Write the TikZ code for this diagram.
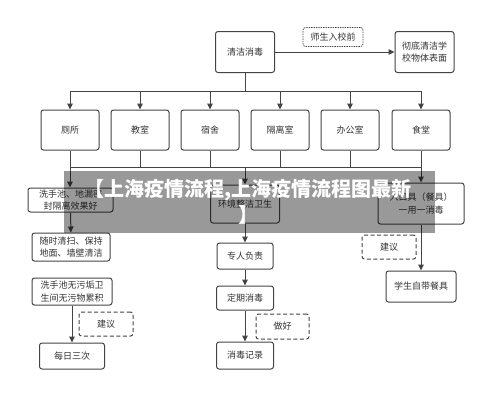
\documentclass[tikz,border=0pt]{standalone}
\usepackage{fontspec}
\setmainfont{Noto Sans CJK SC}
\usetikzlibrary{arrows.meta,positioning}
\definecolor{linegray}{HTML}{444444}
\definecolor{txtgray}{HTML}{333333}

\tikzset{
  box/.style={draw=linegray, line width=1pt, rounded corners=2.5pt, fill=white,
    text=txtgray, font=\fontsize{9}{12.5}\selectfont, align=center, inner sep=0pt},
  hint/.style={box, line width=0.8pt, dash pattern=on 1.4pt off 1pt},
  note/.style={box, line width=1pt, dash pattern=on 4pt off 2.5pt},
  line/.style={draw=linegray, line width=1pt},
  arrow/.style={line, -{Triangle[length=6pt,width=5.5pt]}},
}

\begin{document}
\begin{tikzpicture}[x=1pt, y=-1pt]
  \useasboundingbox (0,0) rectangle (500,405);

  %%%%% TOP %%%%%
  \node[box, minimum width=59, minimum height=41] (clean) at (245,52) {清洁消毒};
  \node[box, minimum width=59, minimum height=41] (surface) at (424.5,52) {彻底清洁学\\校物体表面};
  \node[hint, minimum width=60, minimum height=19] (before) at (333,37) {师生入校前};
  \draw[arrow] (clean) -- (surface);

  %%%%% ROOMS %%%%%
  \node[box, minimum width=58, minimum height=40] (r1) at (70,130) {厕所};
  \node[box, minimum width=58, minimum height=40] (r2) at (140,130) {教室};
  \node[box, minimum width=58, minimum height=40] (r3) at (210,130) {宿舍};
  \node[box, minimum width=58, minimum height=40] (r4) at (280,130) {隔离室};
  \node[box, minimum width=58, minimum height=40] (r5) at (350,130) {办公室};
  \node[box, minimum width=58, minimum height=40] (r6) at (421,130) {食堂};

  \coordinate (busA) at (245,91);
  \coordinate (busB) at (245,167);
  \foreach \r in {r1,r2,r3,r4,r5,r6}{
    \draw[arrow] (clean.south) -- (busA) -| (\r.north);
    \draw[line] (\r.south) -- (\r.south |- busB);
  }
  \draw[line] (r1.south |- busB) -- (r6.south |- busB);

  %%%%% LEFT %%%%%
  \node[box, minimum width=85, minimum height=24] (wash) at (70.5,200) {洗手池、地漏密\\封隔离效果好};
  \node[box, minimum width=78, minimum height=28] (sweep) at (71,247) {随时清扫、保持\\地面、墙壁清洁};
  \node[box, minimum width=80, minimum height=27] (noscale) at (72,291.5) {洗手池无污垢卫\\生间无污物累积};
  \node[box, minimum width=65, minimum height=26] (daily) at (72,356) {每日三次};
  \node[note, minimum width=54, minimum height=24] (sug1) at (106,324) {建议};
  \draw[arrow] (r1.south |- busB) -- (wash.north -| r1.south);
  \draw[arrow] (wash) -- (sweep);
  \draw[arrow] (noscale) -- (daily);

  %%%%% MIDDLE %%%%%
  \node[box, minimum width=69, minimum height=38] (env) at (245,204) {环境整洁卫生};
  \node[box, minimum width=56, minimum height=26] (duty) at (245,256) {专人负责};
  \node[box, minimum width=57, minimum height=24] (regular) at (245,298) {定期消毒};
  \node[box, minimum width=57, minimum height=27] (record) at (245,355.5) {消毒记录};
  \node[note, minimum width=53, minimum height=25] (dogood) at (282.5,326.5) {做好};
  \draw[arrow] (busB) -- (env);
  \draw[arrow] (env) -- (duty);
  \draw[arrow] (duty) -- (regular);
  \draw[arrow] (regular) -- (record);

  %%%%% RIGHT %%%%%
  \node[box, minimum width=86, minimum height=41] (cutlery) at (421,203.5) {入口具（餐具）\\一用一消毒};
  \node[box, minimum width=70, minimum height=31] (student) at (421,286.5) {学生自带餐具};
  \node[note, minimum width=54, minimum height=24] (sug2) at (389,247) {建议};
  \draw[arrow] (r6.south |- busB) -- (cutlery);
  \draw[arrow] (cutlery) -- (student);

  %%%%% BANNER %%%%%
  \fill[black, opacity=0.4] (64,171) rectangle (435,233);
  \node[text=white, font=\fontsize{20}{26}\selectfont\bfseries, align=center, inner sep=0pt]
    (banner) at (248,202) {【上海疫情流程,上海疫情流程图最新\\】};
\end{tikzpicture}
\end{document}
